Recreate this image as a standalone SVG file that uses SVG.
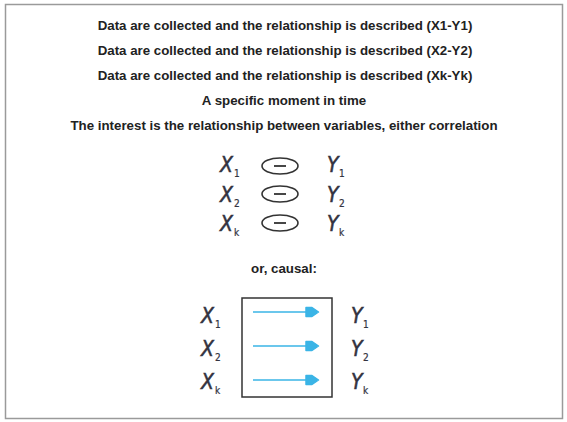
<svg xmlns="http://www.w3.org/2000/svg" width="567" height="422" viewBox="0 0 567 422">
<style>
.t{font-family:"Liberation Sans",Arial,sans-serif;font-weight:bold;font-size:13.3px;fill:#222;text-anchor:middle}
.v{font-family:"DejaVu Sans Condensed","DejaVu Sans",sans-serif;font-style:italic;font-size:21px;fill:#33333f;stroke:#33333f;stroke-width:0.5}
.s{font-family:"DejaVu Sans Condensed","DejaVu Sans",sans-serif;font-size:10px;fill:#33333f;stroke:#33333f;stroke-width:0.2}
.el{fill:none;stroke:#333;stroke-width:1.6}
.mn{stroke:#333;stroke-width:1.8}
.ar{stroke:#3ab4e6;stroke-width:1.5;fill:none;marker-end:url(#ah)}
</style>
<defs>
<marker id="ah" markerUnits="userSpaceOnUse" markerWidth="18" markerHeight="16" refX="1" refY="8" orient="auto">
<path d="M1,3.5 L7,3.5 L13.5,8 L7,12.5 L1,12.5 Z" fill="#3ab4e6" stroke="#3ab4e6" stroke-width="1.5" stroke-linejoin="round"/>
</marker>
</defs>
<rect x="5.5" y="4.5" width="557" height="414" fill="#fff" stroke="#9a9a9a" stroke-width="1.5"/>
<g id="texts">
<text class="t" x="285" y="30">Data are collected and the relationship is described (X1-Y1)</text>
<text class="t" x="285" y="55">Data are collected and the relationship is described (X2-Y2)</text>
<text class="t" x="285" y="80">Data are collected and the relationship is described (Xk-Yk)</text>
<text class="t" x="284" y="105">A specific moment in time</text>
<text class="t" x="284" y="130">The interest is the relationship between variables, either correlation</text>
<text class="t" x="284" y="273">or, causal:</text>
</g>
<g id="correlation">
<text class="v" x="220" y="172">X</text><text class="s" x="234" y="177">1</text>
<text class="v" x="220" y="202">X</text><text class="s" x="234" y="207">2</text>
<text class="v" x="220" y="231">X</text><text class="s" x="234" y="236">k</text>
<ellipse class="el" cx="280" cy="166" rx="18" ry="8"/><line class="mn" x1="274" y1="166" x2="286" y2="166"/>
<ellipse class="el" cx="280" cy="194" rx="18" ry="8"/><line class="mn" x1="274" y1="194" x2="286" y2="194"/>
<ellipse class="el" cx="280" cy="223" rx="18" ry="8"/><line class="mn" x1="274" y1="223" x2="286" y2="223"/>
<text class="v" x="327" y="172">Y</text><text class="s" x="339" y="177">1</text>
<text class="v" x="327" y="202">Y</text><text class="s" x="339" y="207">2</text>
<text class="v" x="327" y="231">Y</text><text class="s" x="339" y="236">k</text>
</g>
<g id="causal">
<rect x="242" y="298" width="90" height="99" fill="none" stroke="#333" stroke-width="1.5"/>
<text class="v" x="201" y="323">X</text><text class="s" x="215" y="328">1</text>
<text class="v" x="201" y="356">X</text><text class="s" x="215" y="361">2</text>
<text class="v" x="201" y="389">X</text><text class="s" x="215" y="394">k</text>
<text class="v" x="351" y="323">Y</text><text class="s" x="363" y="328">1</text>
<text class="v" x="351" y="356">Y</text><text class="s" x="363" y="361">2</text>
<text class="v" x="351" y="389">Y</text><text class="s" x="363" y="394">k</text>
</g>
<g id="connectors">
<line class="ar" x1="253" y1="312" x2="306" y2="312"/>
<line class="ar" x1="253" y1="346" x2="306" y2="346"/>
<line class="ar" x1="253" y1="380" x2="306" y2="380"/>
</g>
</svg>
